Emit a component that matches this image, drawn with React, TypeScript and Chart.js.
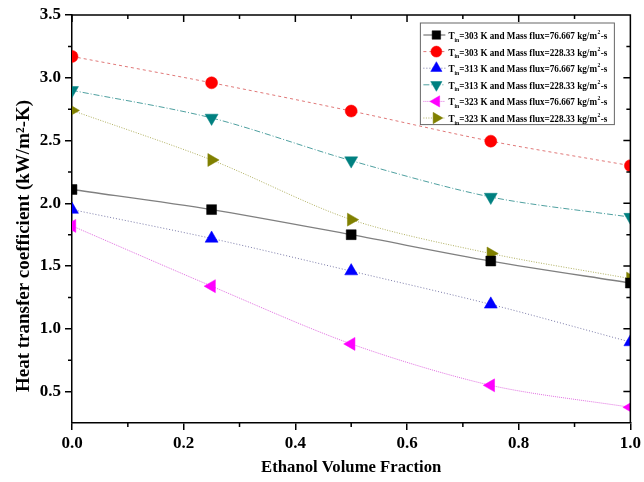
import React, { useEffect, useRef } from "react";
import { Chart, registerables } from "chart.js";
import { drawPoint } from "chart.js/helpers";

Chart.register(...registerables);

// ---- data ----
const xValues = [0, 0.25, 0.5, 0.75, 1.0];
const s303Low = [2.11, 1.95, 1.75, 1.54, 1.365];
const s303High = [3.17, 2.96, 2.735, 2.495, 2.3];
const s313Low = [1.95, 1.72, 1.46, 1.195, 0.895];
const s313High = [2.9, 2.68, 2.34, 2.05, 1.89];
const s323Low = [1.82, 1.34, 0.88, 0.55, 0.375];
const s323High = [2.74, 2.345, 1.87, 1.6, 1.4];

const inletTemps = ["303", "303", "313", "313", "323", "323"];
const massFluxes = ["76.667", "228.33", "76.667", "228.33", "76.667", "228.33"];

const yMajorTicks = [0.5, 1.0, 1.5, 2.0, 2.5, 3.0, 3.5];
const yMinorTicks = [0.75, 1.25, 1.75, 2.25, 2.75, 3.25];
const xMajorTicks = [0, 0.2, 0.4, 0.6, 0.8, 1.0];
const xMinorTicks = [0.1, 0.3, 0.5, 0.7, 0.9];

const xTitle = "Ethanol Volume Fraction";
const yTitle = "Heat transfer coefficient (kW/m\u00B2-K)";

const seriesValues = [s303Low, s303High, s313Low, s313High, s323Low, s323High];

// ---- styles ----
const styles = [
  { marker: "#000000", line: "#808080", dash: [], pointStyle: "rect", rotation: 0, radius: 7, legendRadius: 6, width: 1.3 },
  { marker: "#ff0000", line: "#e07878", dash: [3, 3], pointStyle: "circle", rotation: 0, radius: 6, legendRadius: 5.5, width: 1 },
  { marker: "#0000ff", line: "#7a7aa8", dash: [1, 2], pointStyle: "triangle", rotation: 0, radius: 7.5, legendRadius: 6.5, width: 1 },
  { marker: "#008080", line: "#4fa0a0", dash: [6, 2, 1, 2], pointStyle: "triangle", rotation: 180, radius: 7.5, legendRadius: 6.5, width: 1 },
  { marker: "#ff00ff", line: "#e070e0", dash: [1, 1], pointStyle: "triangle", rotation: 270, radius: 7.5, legendRadius: 6.5, width: 1 },
  { marker: "#808000", line: "#b0b060", dash: [1, 1.5], pointStyle: "triangle", rotation: 90, radius: 7.5, legendRadius: 6.5, width: 1 },
];

const FONT = "'Liberation Serif', 'Times New Roman', serif";

const framePlugin = {
  id: "frameTicks",
  afterDraw(chart: any) {
    const { ctx, chartArea: a, scales } = chart;
    const x = scales.x;
    const y = scales.y;
    ctx.save();
    ctx.strokeStyle = "#000";
    ctx.lineWidth = 1.5;
    ctx.setLineDash([]);
    ctx.beginPath();
    ctx.moveTo(a.left, a.top);
    ctx.lineTo(a.right, a.top);
    ctx.lineTo(a.right, a.bottom);
    for (const v of yMinorTicks) {
      const p = y.getPixelForValue(v);
      ctx.moveTo(a.left - 4, p);
      ctx.lineTo(a.left, p);
      ctx.moveTo(a.right - 4, p);
      ctx.lineTo(a.right, p);
    }
    for (const v of yMajorTicks) {
      const p = y.getPixelForValue(v);
      ctx.moveTo(a.right - 7, p);
      ctx.lineTo(a.right, p);
    }
    for (const v of xMinorTicks) {
      const p = x.getPixelForValue(v);
      ctx.moveTo(p, a.bottom);
      ctx.lineTo(p, a.bottom + 4);
      ctx.moveTo(p, a.top);
      ctx.lineTo(p, a.top + 4);
    }
    for (const v of xMajorTicks) {
      const p = x.getPixelForValue(v);
      ctx.moveTo(p, a.top);
      ctx.lineTo(p, a.top + 7);
    }
    ctx.stroke();

    // y-axis title (rotated), placed as in the reference
    ctx.fillStyle = "#000";
    ctx.font = `bold 19px ${FONT}`;
    ctx.textAlign = "center";
    ctx.textBaseline = "middle";
    ctx.translate(24, (a.top + a.bottom) / 2 + 27);
    ctx.rotate(-Math.PI / 2);
    ctx.fillText(yTitle, 0, 0);
    ctx.restore();
  },
};

const legendPlugin = {
  id: "customLegend",
  afterDraw(chart: any) {
    const { ctx, chartArea: a } = chart;
    const boxRight = a.right - 16;
    const boxLeft = boxRight - 194;
    const boxTop = a.top + 8;
    const rowH = 16.6;
    const boxBottom = boxTop + rowH * 6 + 2;
    ctx.save();
    ctx.fillStyle = "#ffffff";
    ctx.fillRect(boxLeft, boxTop, boxRight - boxLeft, boxBottom - boxTop);
    ctx.strokeStyle = "#666";
    ctx.lineWidth = 1;
    ctx.strokeRect(boxLeft, boxTop, boxRight - boxLeft, boxBottom - boxTop);

    const big = `bold 10.5px ${FONT}`;
    const small = `bold 6.5px ${FONT}`;
    ctx.textBaseline = "alphabetic";
    ctx.textAlign = "left";
    styles.forEach((s, i) => {
      const cy = boxTop + 12 + i * rowH;
      ctx.strokeStyle = s.line;
      ctx.lineWidth = s.width;
      ctx.setLineDash(s.dash);
      ctx.beginPath();
      ctx.moveTo(boxLeft + 3, cy);
      ctx.lineTo(boxLeft + 25, cy);
      ctx.stroke();
      ctx.setLineDash([]);
      ctx.fillStyle = s.marker;
      ctx.strokeStyle = s.marker;
      ctx.lineWidth = 0.5;
      drawPoint(ctx, { pointStyle: s.pointStyle, rotation: s.rotation, radius: s.legendRadius, borderWidth: 0.5 } as any, boxLeft + 16, cy);

      ctx.save();
      ctx.fillStyle = "#000";
      const base = cy + 4;
      ctx.translate(boxLeft + 28, 0);
      ctx.scale(0.87, 1);
      let tx = 0;
      ctx.font = big;
      ctx.fillText("T", tx, base);
      tx += ctx.measureText("T").width;
      ctx.font = small;
      ctx.fillText("in", tx, base + 2.5);
      tx += ctx.measureText("in").width;
      ctx.font = big;
      const main = `=${inletTemps[i]} K and Mass flux=${massFluxes[i]} kg/m`;
      ctx.fillText(main, tx, base);
      tx += ctx.measureText(main).width;
      ctx.font = small;
      ctx.fillText("2", tx + 0.5, base - 5);
      tx += ctx.measureText("2").width + 1;
      ctx.font = big;
      ctx.fillText("-s", tx, base);
      ctx.restore();
    });
    ctx.restore();
  },
};

export default function App() {
  const ref = useRef<HTMLCanvasElement | null>(null);
  useEffect(() => {
    document.body.style.margin = "0";
    const canvas = ref.current;
    if (!canvas) return;
    const datasets = seriesValues.map((vals, i) => {
      const s = styles[i];
      return {
        label: `T_in=${inletTemps[i]} K and Mass flux=${massFluxes[i]} kg/m2-s`,
        data: xValues.map((xv, j) => ({ x: xv, y: vals[j] })),
        borderColor: s.line,
        borderWidth: s.width,
        borderDash: s.dash,
        backgroundColor: s.marker,
        pointBackgroundColor: s.marker,
        pointBorderColor: s.marker,
        pointBorderWidth: 0.5,
        pointStyle: s.pointStyle,
        rotation: s.rotation,
        pointRadius: s.radius,
        pointHoverRadius: s.radius,
        tension: 0.3,
        fill: false,
      };
    });
    const chart = new Chart(canvas, {
      type: "line",
      data: { datasets: datasets as any },
      options: {
        animation: false,
        responsive: false,
        devicePixelRatio: 1,
        layout: { padding: { left: 0, top: 15, right: 12, bottom: 0 } },
        plugins: { legend: { display: false }, tooltip: { enabled: false } },
        scales: {
          x: {
            type: "linear",
            min: 0,
            max: 1,
            afterBuildTicks: (scale: any) => {
              scale.ticks = xMajorTicks.map((v) => ({ value: v }));
            },
            afterFit: (scale: any) => {
              scale.height = 59;
            },
            grid: {
              display: true,
              drawOnChartArea: false,
              drawTicks: true,
              tickLength: 7,
              color: "#000",
              lineWidth: 1.5,
            },
            border: { display: true, color: "#000", width: 1.5 },
            ticks: {
              color: "#000",
              padding: 3,
              maxRotation: 0,
              font: { family: FONT, size: 17, weight: "bold" },
              callback: (v: any) => Number(v).toFixed(1),
            },
            title: {
              display: true,
              text: xTitle,
              color: "#000",
              font: { family: FONT, size: 16.7, weight: "bold" },
              padding: { top: 0, bottom: 4 },
            },
          },
          y: {
            type: "linear",
            min: 0.25,
            max: 3.5,
            afterBuildTicks: (scale: any) => {
              scale.ticks = yMajorTicks.map((v) => ({ value: v }));
            },
            afterFit: (scale: any) => {
              scale.width = 72;
            },
            grid: {
              display: true,
              drawOnChartArea: false,
              drawTicks: true,
              tickLength: 7,
              color: "#000",
              lineWidth: 1.5,
            },
            border: { display: true, color: "#000", width: 1.5 },
            ticks: {
              color: "#000",
              padding: 4,
              font: { family: FONT, size: 17, weight: "bold" },
              callback: (v: any) => Number(v).toFixed(1),
            },
            title: { display: false },
          },
        },
      },
      plugins: [framePlugin, legendPlugin],
    });
    return () => chart.destroy();
  }, []);
  return (
    <div style={{ position: "absolute", left: 0, top: 0, width: 644, height: 482, background: "#fff" }}>
      <canvas ref={ref} width={644} height={482} style={{ width: 644, height: 482, display: "block" }} />
    </div>
  );
}
